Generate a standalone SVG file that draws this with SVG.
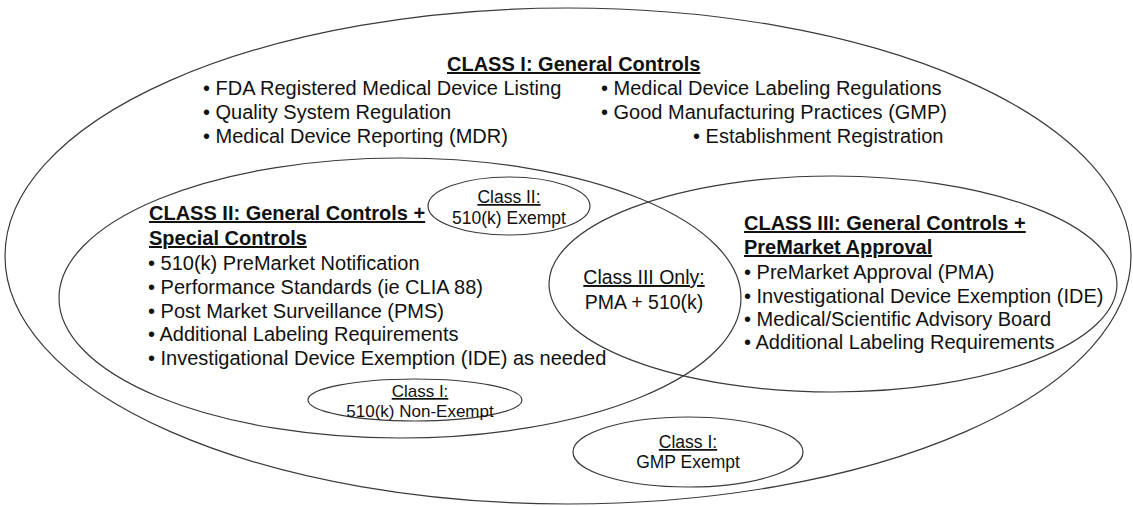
<svg xmlns="http://www.w3.org/2000/svg" width="1133" height="506" viewBox="0 0 1133 506">
<style>
.sh{fill:none;stroke:#3a3a3a;stroke-width:1.2}
text{font-family:"Liberation Sans",Arial,Helvetica,sans-serif;fill:#111}
.h{font-size:20px;font-weight:bold;text-decoration:underline}
.b{font-size:20px}
.s{font-size:17.5px;text-anchor:middle}
.t{font-size:17px;text-anchor:middle}
.u{text-decoration:underline}
.m{font-size:19.5px;text-anchor:middle}
</style>
<rect width="1133" height="506" fill="#fff"/>
<g id="class1">
<ellipse class="sh" cx="568" cy="256" rx="563" ry="248"/>
<text class="h" x="447" y="71">CLASS I: General Controls</text>
<text class="b" x="203" y="95">• FDA Registered Medical Device Listing</text>
<text class="b" x="203" y="119">• Quality System Regulation</text>
<text class="b" x="203" y="143">• Medical Device Reporting (MDR)</text>
<text class="b" x="601" y="95">• Medical Device Labeling Regulations</text>
<text class="b" x="601" y="119">• Good Manufacturing Practices (GMP)</text>
<text class="b" x="693" y="143">• Establishment Registration</text>
</g>
<g id="class2">
<ellipse class="sh" cx="400" cy="298" rx="341" ry="140"/>
<text class="h" x="149" y="220">CLASS II: General Controls +</text>
<text class="h" x="149" y="245">Special Controls</text>
<text class="b" x="148" y="270">• 510(k) PreMarket Notification</text>
<text class="b" x="148" y="294">• Performance Standards (ie CLIA 88)</text>
<text class="b" x="148" y="318">• Post Market Surveillance (PMS)</text>
<text class="b" x="148" y="341">• Additional Labeling Requirements</text>
<text class="b" x="148" y="365">• Investigational Device Exemption (IDE) as needed</text>
</g>
<g id="class3">
<ellipse class="sh" cx="833" cy="284" rx="284" ry="108"/>
<text class="h" x="744" y="230">CLASS III: General Controls +</text>
<text class="h" x="744" y="254">PreMarket Approval</text>
<text class="b" x="744" y="279">• PreMarket Approval (PMA)</text>
<text class="b" x="744" y="303">• Investigational Device Exemption (IDE)</text>
<text class="b" x="744" y="326">• Medical/Scientific Advisory Board</text>
<text class="b" x="744" y="349">• Additional Labeling Requirements</text>
</g>
<g id="class3only">
<text class="m u" x="644" y="284">Class III Only:</text>
<text class="m" x="644" y="309">PMA + 510(k)</text>
</g>
<g id="class2exempt">
<ellipse class="sh" cx="509" cy="206" rx="81" ry="29"/>
<text class="s u" x="509" y="203">Class II:</text>
<text class="s" x="509" y="224">510(k) Exempt</text>
</g>
<g id="class1nonexempt">
<ellipse class="sh" cx="415" cy="400" rx="107" ry="21"/>
<text class="t u" x="420" y="397">Class I:</text>
<text class="t" x="420" y="417">510(k) Non-Exempt</text>
</g>
<g id="class1gmpexempt">
<ellipse class="sh" cx="688" cy="452" rx="115" ry="35"/>
<text class="s u" x="688" y="448">Class I:</text>
<text class="s" x="688" y="468">GMP Exempt</text>
</g>
<g id="connectors"/>
</svg>
